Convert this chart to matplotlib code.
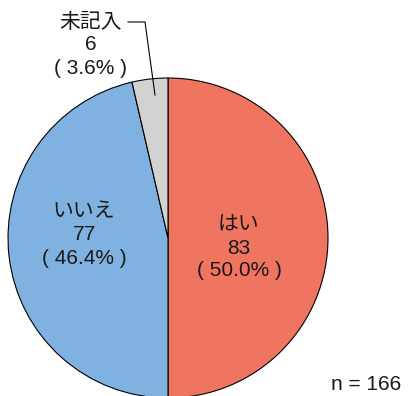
import matplotlib
matplotlib.use("Agg")
import matplotlib.pyplot as plt

categories = ["はい", "いいえ", "未記入"]
counts = [83, 77, 6]
percents = [50.0, 46.4, 3.6]
colors = ["#F07561", "#7FB2E0", "#D2D2D2"]
total_label = "n = 166"

plt.rcParams['font.family'] = ['Liberation Sans', 'Noto Sans CJK JP', 'DejaVu Sans']

H = 396
fig = plt.figure(figsize=(4.08, 3.96), dpi=100)
ax = fig.add_axes([0, 0, 1, 1])

cx, cy, r = 168, H - 238, 160
ax.pie(counts, colors=colors, startangle=90, counterclock=False,
       center=(cx, cy), radius=r, frame=True,
       wedgeprops=dict(edgecolor='black', linewidth=0.8))
ax.set_xlim(0, 408)
ax.set_ylim(0, H)
ax.set_aspect('equal')
ax.axis('off')

fs = 15
tc = '#1a1a1a'
label_pos = [(239, 225), (84, 212), (91, 22)]
step = 23
for i, (x, y) in enumerate(label_pos):
    lines = [categories[i], f"{counts[i]}", f"( {percents[i]:.1f}% )"]
    for k, s in enumerate(lines):
        ax.text(x, H - (y + k * step), s, ha='center', va='center',
                fontsize=fs, color=tc)

# leader line for 未記入
ax.plot([128, 145, 155], [H - 22, H - 22, H - 95], color='black', lw=0.8)

ax.text(401, H - 384, total_label, ha='right', va='center', fontsize=15, color=tc)

fig.savefig("out.png", dpi=100)
